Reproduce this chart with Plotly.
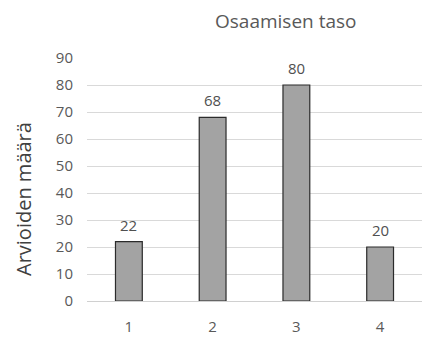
import plotly.graph_objects as go

categories = ["1", "2", "3", "4"]
values = [22, 68, 80, 20]
y_ticks = [0, 10, 20, 30, 40, 50, 60, 70, 80, 90]

L, R, T, B = 87, 0, 58, 44
W, H = 422, 345
pw, ph = W - L - R, H - T - B

fig = go.Figure()
fig.add_trace(go.Bar(
    x=categories, y=values,
    width=0.32,
    marker=dict(color="#a3a3a3", line=dict(color="#2b2b2b", width=1.2)),
    cliponaxis=False,
))

anns = [
    dict(text="Osaamisen taso", x=(285 - L) / pw, y=(H - B - 21) / ph,
         xref="paper", yref="paper", xanchor="center", yanchor="middle",
         showarrow=False, font=dict(size=19, color="#595959")),
    dict(text="Arvioiden määrä", x=(23 - L) / pw, y=(H - B - 199) / ph,
         xref="paper", yref="paper", xanchor="center", yanchor="middle",
         textangle=-90, showarrow=False, font=dict(size=20, color="#404040")),
]
# data labels: on a category axis, annotation x is the category index
for i, v in enumerate(values):
    anns.append(dict(text=str(v), x=i, y=v, xref="x", yref="y",
                     xanchor="center", yanchor="middle", yshift=17,
                     showarrow=False, font=dict(size=15, color="#505050")))

fig.update_layout(
    width=W, height=H,
    margin=dict(l=L, r=R, t=T, b=B),
    paper_bgcolor="white", plot_bgcolor="white",
    showlegend=False,
    font=dict(family="Open Sans, sans-serif", color="#595959"),
    annotations=anns,
)

fig.update_xaxes(
    type="category",
    showgrid=False, showline=False, ticks="",
    tickfont=dict(size=15, color="#595959"),
    ticklabelstandoff=15,
)
fig.update_yaxes(
    range=[0, 90], tickvals=y_ticks,
    showgrid=True, gridcolor="#d9d9d9", gridwidth=1,
    zeroline=True, zerolinecolor="#d0d0d0", zerolinewidth=1,
    showline=False, ticks="",
    tickfont=dict(size=15, color="#595959"),
    ticklabelstandoff=13,
)

fig.write_html("out.html")
